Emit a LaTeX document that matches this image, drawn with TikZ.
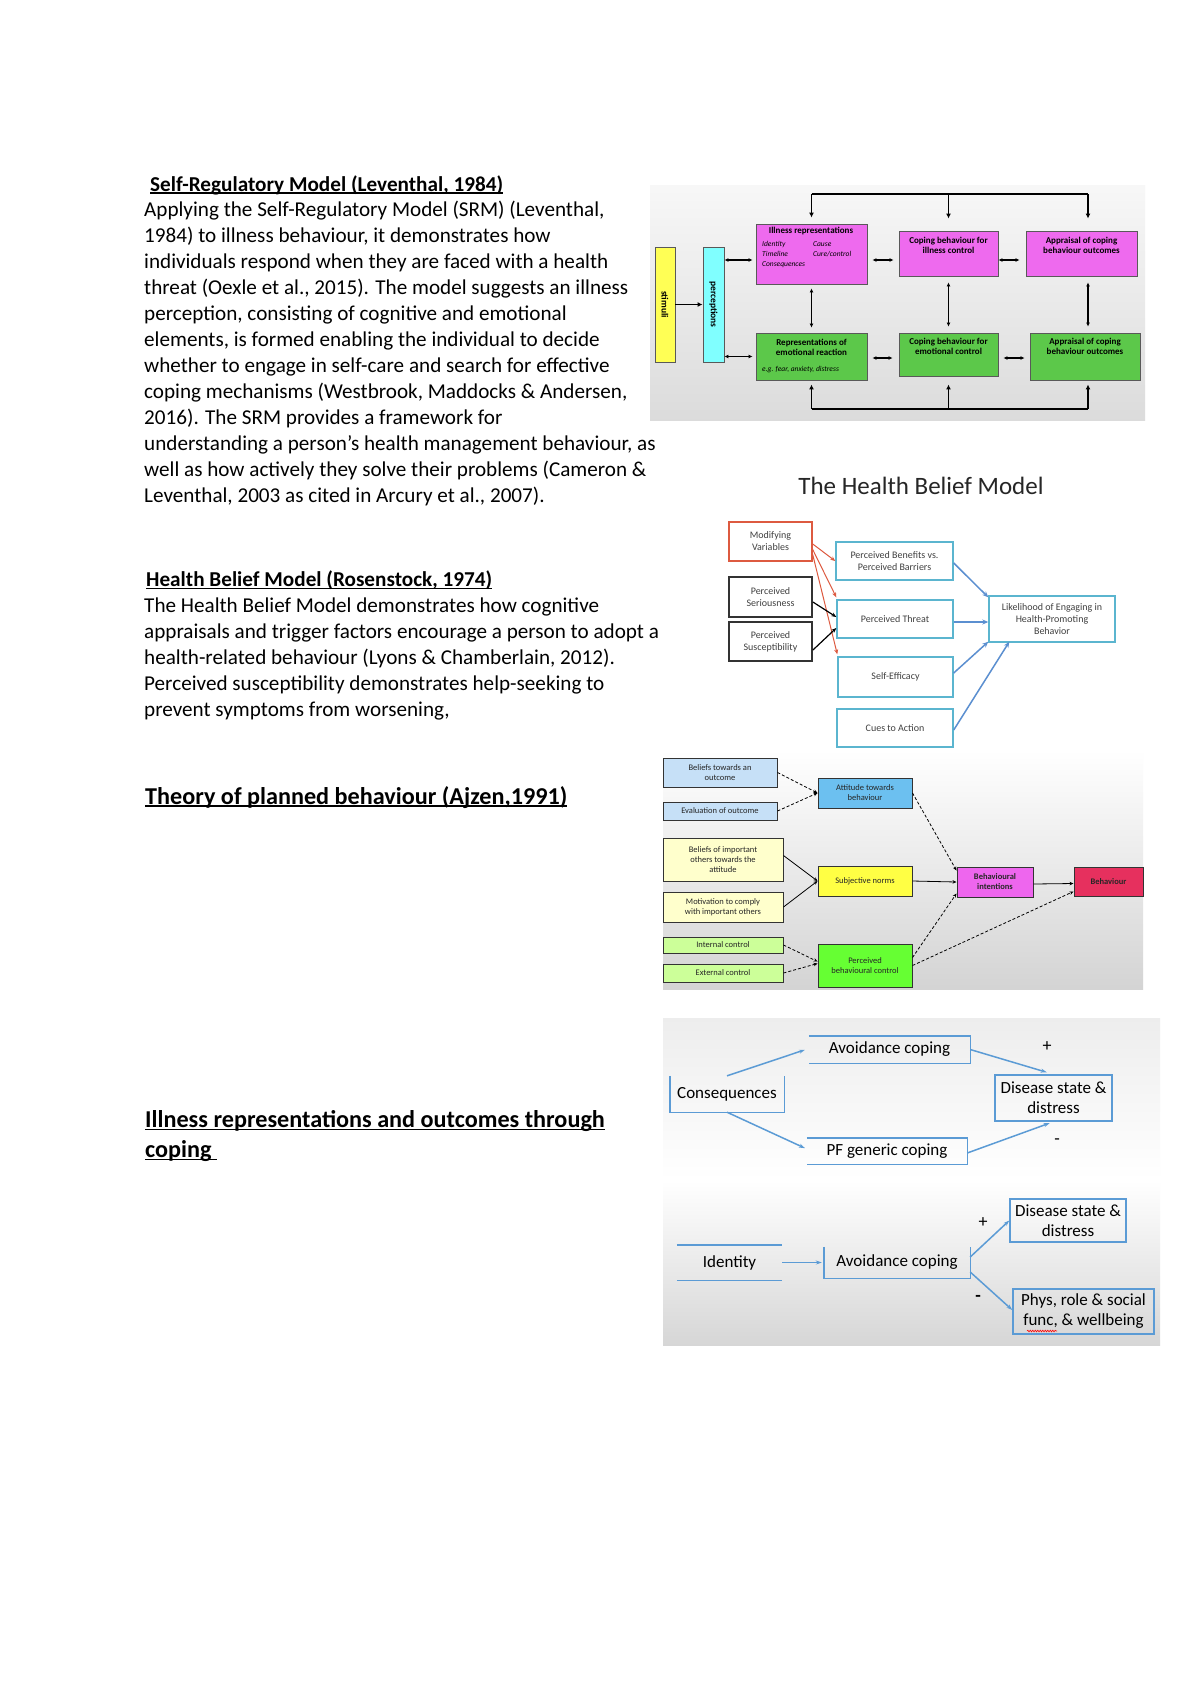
\documentclass[tikz,border=0pt]{standalone}
\usepackage{fontspec}
\setmainfont{Carlito}
\usetikzlibrary{arrows.meta,calc,decorations.pathmorphing}
\definecolor{srmmag}{HTML}{EE6AEE}
\definecolor{srmgreen}{HTML}{5CC84A}
\definecolor{srmyel}{HTML}{FFFF55}
\definecolor{srmcyan}{HTML}{80FFFF}
\definecolor{hbmred}{HTML}{DD5A40}
\definecolor{hbmblue}{HTML}{5BB5CF}
\definecolor{hbmarrow}{HTML}{5B8FD0}
\definecolor{irblue}{HTML}{5B9BD5}
\definecolor{tpbbl}{HTML}{C6E0F7}
\definecolor{tpbblue}{HTML}{6CC0F0}
\definecolor{tpbly}{HTML}{FFFFCC}
\definecolor{tpbyel}{HTML}{FFFF44}
\definecolor{tpblg}{HTML}{CCFF99}
\definecolor{tpbgreen}{HTML}{66FF33}
\definecolor{tpbmag}{HTML}{EE66EE}
\definecolor{tpbred}{HTML}{E6305E}
\newcommand\myul[1]{\setbox0=\hbox{#1}\rlap{\rule[-2.6pt]{\wd0}{1.4pt}}\box0}
\begin{document}
\begin{tikzpicture}[x=1pt,y=-1pt,
  body/.style={anchor=base west, inner sep=0pt, font=\fontsize{21.15}{26}\selectfont},
  headb/.style={anchor=base west, inner sep=0pt, font=\bfseries\fontsize{21.2}{26}\selectfont},
  headbig/.style={anchor=base west, inner sep=0pt, font=\bfseries\fontsize{24.2}{29}\selectfont},
  srmbox/.style={draw=black!65, line width=0.9pt, inner sep=0pt},
  srmtxt/.style={font=\bfseries\fontsize{9}{10.5}\selectfont, align=center, inner sep=0pt},
  srmit/.style={font=\itshape\fontsize{7.5}{9}\selectfont, anchor=west, inner sep=0pt},
  srmline/.style={line width=1.6pt},
  srmarr/.style={line width=1.6pt, -{Latex[length=5pt,width=5pt]}},
  srmdbl/.style={line width=1.3pt, {Latex[length=4pt,width=4pt]}-{Latex[length=4pt,width=4pt]}},
  hbmbox/.style={fill=white, inner sep=0pt, align=center, text=black!75, font=\fontsize{10}{12}\selectfont},
  hbmred/.style={hbmbox, draw=hbmred, line width=1.4pt},
  hbmblk/.style={hbmbox, draw=black!80, line width=1.8pt},
  hbmcy/.style={hbmbox, draw=hbmblue, line width=1.4pt},
  redarr/.style={draw=hbmred, line width=1pt, -{Stealth[length=5pt,width=4pt]}},
  blkarr/.style={draw=black, line width=1.2pt, -{Stealth[length=5pt,width=4pt]}},
  bluarr/.style={draw=hbmarrow, line width=1.5pt, -{Stealth[length=6pt,width=5pt]}},
  tpbbox/.style={draw=black!80, line width=1pt, inner sep=0pt, align=center, text=black!85, font=\fontsize{8.5}{10}\selectfont},
  tpbdash/.style={line width=0.8pt, densely dashed, -{Stealth[length=4pt,width=3.5pt]}},
  tpbsolid/.style={line width=0.8pt, -{Stealth[length=4pt,width=3.5pt]}},
  irbox/.style={inner sep=0pt, align=center, font=\fontsize{17}{20}\selectfont},
  irbord/.style={draw=irblue, line width=1.4pt},
  irarr/.style={draw=irblue, line width=1.5pt, -{Stealth[length=6pt,width=4pt]}},
  sign/.style={font=\fontsize{18}{20}\selectfont, inner sep=0pt}
]
\useasboundingbox (0,0) rectangle (1200,1698);
\fill[white] (0,0) rectangle (1200,1698);

% ---------------- left column text ----------------
\node[headb] (h1) at (150,191) {\myul{Self-Regulatory Model (Leventhal, 1984)}};
\node[body] (t1) at (144,216.5) {Applying the Self-Regulatory Model (SRM) (Leventhal,};
\node[body] (t2) at (144,242.5) {1984) to illness behaviour, it demonstrates how};
\node[body] (t3) at (144,268.5) {individuals respond when they are faced with a health};
\node[body] (t4) at (144,294.5) {threat (Oexle et al., 2015). The model suggests an illness};
\node[body] (t5) at (144,320.5) {perception, consisting of cognitive and emotional};
\node[body] (t6) at (144,346.5) {elements, is formed enabling the individual to decide};
\node[body] (t7) at (144,372.5) {whether to engage in self-care and search for effective};
\node[body] (t8) at (144,398.5) {coping mechanisms (Westbrook, Maddocks \& Andersen,};
\node[body] (t9) at (144,424.5) {2016). The SRM provides a framework for};
\node[body] (t10) at (144,450.5) {understanding a person’s health management behaviour, as};
\node[body] (t11) at (144,476.5) {well as how actively they solve their problems (Cameron \&};
\node[body] (t12) at (144,502.5) {Leventhal, 2003 as cited in Arcury et al., 2007).};

\node[headb] (h2) at (146,586.5) {\myul{Health Belief Model (Rosenstock, 1974)}};
\node[body] (u1) at (144,612.5) {The Health Belief Model demonstrates how cognitive};
\node[body] (u2) at (144,638.5) {appraisals and trigger factors encourage a person to adopt a};
\node[body] (u3) at (144,664.5) {health-related behaviour (Lyons \& Chamberlain, 2012).};
\node[body] (u4) at (144,690.5) {Perceived susceptibility demonstrates help-seeking to};
\node[body] (u5) at (144,716.5) {prevent symptoms from worsening,};

\node[headbig] (h3) at (145,804) {\myul{Theory of planned behaviour (Ajzen,1991)}};
\node[headbig] (h4) at (145,1127.5) {\myul{Illness representations and outcomes through}};
\node[headbig] (h5) at (145,1157.5) {\myul{coping\ }};

% ---------------- Self-Regulatory Model diagram ----------------
\shade[top color=white!97!black, bottom color=white!86!black] (650,185) rectangle (1145,420);
\node[srmbox, fill=srmyel, minimum width=20pt, minimum height=115pt] (stim) at (665,304.5) {};
\node[font=\bfseries\fontsize{9.5}{10}\selectfont, rotate=-90, inner sep=0pt] (stimt) at (stim) {stimuli};
\node[srmbox, fill=srmcyan, minimum width=21pt, minimum height=115pt] (perc) at (713.5,304.5) {};
\node[font=\bfseries\fontsize{9.5}{10}\selectfont, rotate=-90, inner sep=0pt] (perct) at (perc) {perceptions};

\node[srmbox, fill=srmmag, minimum width=111pt, minimum height=60pt] (illrep) at (811.5,254) {};
\node[srmtxt] (illrept) at (811,231.5) {Illness representations};
\node[srmit] (ir1) at (762,244) {Identity};
\node[srmit] (ir2) at (813,244) {Cause};
\node[srmit] (ir3) at (762,254) {Timeline};
\node[srmit] (ir4) at (813,254) {Cure/control};
\node[srmit] (ir5) at (762,265) {Consequences};

\node[srmbox, fill=srmgreen, minimum width=111pt, minimum height=47pt] (emorep) at (811.5,356.5) {};
\node[srmtxt] (emorept) at (811.5,347.5) {Representations of\\emotional reaction};
\node[srmit] (em1) at (762,370) {e.g. fear, anxiety, distress};

\node[srmbox, fill=srmmag, minimum width=99pt, minimum height=45pt] (copill) at (948.5,253.5) {};
\node[srmtxt] (copillt) at (948.5,245.5) {Coping behaviour for\\illness control};
\node[srmbox, fill=srmmag, minimum width=111pt, minimum height=45pt] (appill) at (1081.5,253.5) {};
\node[srmtxt] (appillt) at (1081.5,245.5) {Appraisal of coping\\behaviour outcomes};
\node[srmbox, fill=srmgreen, minimum width=99pt, minimum height=43pt] (copemo) at (948.5,354.5) {};
\node[srmtxt] (copemot) at (948.5,346.5) {Coping behaviour for\\emotional control};
\node[srmbox, fill=srmgreen, minimum width=110pt, minimum height=47pt] (appemo) at (1085,356.5) {};
\node[srmtxt] (appemot) at (1085,346.5) {Appraisal of coping\\behaviour outcomes};

\coordinate (srmtop) at (0,194);
\coordinate (srmbot) at (0,409);
\coordinate (srmmid) at (0,260);
\coordinate (srmlow) at (0,358);
\coordinate (appx) at (1088,0);
\draw[srmarr] (stim) -- (perc);
\draw[srmdbl, shorten >=3pt] (perc.east |- srmmid) -- (illrep.west |- srmmid);
\draw[srmdbl, shorten >=3pt] (perc.east |- emorep.west) -- (emorep.west);
\draw[srmdbl, shorten <=5pt, shorten >=5pt] (illrep.east |- srmmid) -- (copill.west |- srmmid);
\draw[srmdbl, shorten >=6pt] (copill.east |- srmmid) -- (appill.west |- srmmid);
\draw[srmdbl, shorten <=5pt, shorten >=6pt] (emorep.east |- srmlow) -- (copemo.west |- srmlow);
\draw[srmdbl, shorten <=5pt, shorten >=5pt] (copemo.east |- srmlow) -- (appemo.west |- srmlow);
\draw[srmdbl, shorten <=4pt, shorten >=5pt] (illrep.south) -- (emorep.north);
\draw[srmdbl, shorten <=6pt, shorten >=6pt] (copill.south) -- (copemo.north);
\draw[srmdbl, shorten <=6pt, shorten >=6pt] (appx |- appill.south) -- (appx |- appemo.north);
\draw[srmline] (illrep.north |- srmtop) -- (appx |- srmtop);
\draw[srmarr, shorten >=6pt] (illrep.north |- srmtop) -- (illrep.north);
\draw[srmarr, shorten >=12pt] (copill.north |- srmtop) -- (copill.north);
\draw[srmarr, shorten >=12pt] (appx |- srmtop) -- (appx |- appill.north);
\draw[srmline] (emorep.south |- srmbot) -- (appx |- srmbot);
\draw[srmarr, shorten >=4pt] (emorep.south |- srmbot) -- (emorep.south);
\draw[srmarr, shorten >=8pt] (copemo.south |- srmbot) -- (copemo.south);
\draw[srmarr, shorten >=4pt] (appx |- srmbot) -- (appx |- appemo.south);

% ---------------- Health Belief Model ----------------
\node[font=\fontsize{25}{28}\selectfont, text=black!85, inner sep=0pt] (hbmtitle) at (921,486) {The Health Belief Model};
\node[hbmred, minimum width=83pt, minimum height=39pt] (modvar) at (770.5,541.5) {Modifying\\Variables};
\node[hbmblk, minimum width=83pt, minimum height=40pt] (perser) at (770.5,597) {Perceived\\Seriousness};
\node[hbmblk, minimum width=83pt, minimum height=39pt] (persus) at (770.5,641.5) {Perceived\\Susceptibility};
\node[hbmcy, minimum width=117pt, minimum height=38pt] (benef) at (894.5,561) {Perceived Benefits vs.\\Perceived Barriers};
\node[hbmcy, minimum width=116pt, minimum height=38pt] (threat) at (895,619) {Perceived Threat};
\node[hbmcy, minimum width=115pt, minimum height=40pt] (selfeff) at (895.5,677) {Self-Efficacy};
\node[hbmcy, minimum width=116pt, minimum height=38pt] (cues) at (895,728) {Cues to Action};
\node[hbmcy, minimum width=126pt, minimum height=46pt] (likely) at (1052,619) {Likelihood of Engaging in\\Health-Promoting\\Behavior};

\draw[redarr] ($(modvar.east)+(0,2.5)$) -- (benef.west);
\draw[redarr] ($(modvar.east)+(0,8)$) -- ($(threat.north west)+(0,-2)$);
\draw[redarr] ($(modvar.east)+(0,13)$) -- ($(selfeff.north west)+(0,-2)$);
\draw[blkarr] ($(perser.east)+(0,5)$) -- ($(threat.west)+(0,-2)$);
\draw[blkarr] ($(persus.east)+(0,8.5)$) -- ($(threat.west)+(0,9)$);
\draw[bluarr] ($(benef.east)+(0,2)$) -- ($(likely.north west)+(0,2)$);
\draw[bluarr] ($(threat.east)+(0,3)$) -- ($(likely.west)+(0,3)$);
\draw[bluarr] ($(selfeff.east)+(0,-4)$) -- ($(likely.south west)+(0,-1)$);
\draw[bluarr] ($(cues.east)+(0,2)$) -- ($(likely.south west)+(21,-1)$);

% ---------------- Theory of planned behaviour ----------------
\shade[top color=white, bottom color=white!83!black] (663,750) rectangle (1143,989);
\node[tpbbox, fill=tpbbl, minimum width=114pt, minimum height=29pt] (bto) at (720,772.5) {Beliefs towards an\\outcome};
\node[tpbbox, fill=tpbbl, minimum width=114pt, minimum height=18pt] (evo) at (720,811) {Evaluation of outcome};
\node[tpbbox, fill=tpbblue, minimum width=94pt, minimum height=30pt] (att) at (865,793) {Attitude towards\\behaviour};
\node[tpbbox, fill=tpbly, minimum width=120pt, minimum height=43pt] (bio) at (723,859.5) {Beliefs of important\\others towards the\\attitude};
\node[tpbbox, fill=tpbly, minimum width=120pt, minimum height=30pt] (mot) at (723,907) {Motivation to comply\\with important others};
\node[tpbbox, fill=tpbyel, minimum width=94pt, minimum height=30pt] (subj) at (865,881) {Subjective norms};
\node[tpbbox, fill=tpblg, minimum width=120pt, minimum height=16pt] (intc) at (723,945) {Internal control};
\node[tpbbox, fill=tpblg, minimum width=120pt, minimum height=18pt] (extc) at (723,973) {External control};
\node[tpbbox, fill=tpbgreen, minimum width=94pt, minimum height=43pt] (pbc) at (865,965.5) {Perceived\\behavioural control};
\node[tpbbox, fill=tpbmag, minimum width=76pt, minimum height=30pt, font=\bfseries\fontsize{8.5}{10}\selectfont] (bint) at (995,882) {Behavioural\\intentions};
\node[tpbbox, fill=tpbred, minimum width=69pt, minimum height=29pt, font=\bfseries\fontsize{8.5}{10}\selectfont] (beh) at (1108.5,881.5) {Behaviour};

\draw[tpbdash] (bto.east) -- (att.west);
\draw[tpbdash] (evo.east) -- (att.west);
\draw[tpbsolid] ($(bio.east)+(0,-4)$) -- (subj.west);
\draw[tpbsolid] (mot.east) -- (subj.west);
\draw[tpbdash] (intc.east) -- ($(pbc.west)+(0,-4)$);
\draw[tpbdash] (extc.east) -- ($(pbc.west)+(0,-2)$);
\draw[tpbdash] (att.east) -- ($(bint.north west)+(0,4)$);
\draw[tpbsolid] (subj.east) -- (bint.west);
\draw[tpbdash] ($(pbc.east)+(0,-8)$) -- ($(bint.south west)+(0,-4)$);
\draw[tpbdash] (pbc.east) -- ($(beh.south west)+(0,-5)$);
\draw[tpbsolid] ($(bint.east)+(0,2)$) -- ($(beh.west)+(0,2)$);

% ---------------- Illness representations and coping ----------------
\shade[top color=white!93!black, bottom color=white] (663,1018) rectangle (1160,1180);
\shade[top color=white, bottom color=white!84!black] (663,1180) rectangle (1160,1345);
\node[irbox, minimum width=114pt, minimum height=36pt] (cons) at (727,1094) {Consequences};
\node[irbox, minimum width=161pt, minimum height=27pt] (avo1) at (889.5,1049.5) {Avoidance coping};
\node[irbox, minimum width=160pt, minimum height=26pt] (pfg) at (887,1151) {PF generic coping};
\node[irbox, minimum width=117pt, minimum height=46pt, draw=irblue, line width=1.4pt] (dis1) at (1053.5,1098) {Disease state \&\\distress};
\node[irbox, minimum width=105pt, minimum height=35pt] (ident) at (729.5,1262.5) {Identity};
\node[irbox, minimum width=146pt, minimum height=31pt] (avo2) at (897,1262.5) {Avoidance coping};
\node[irbox, minimum width=116pt, minimum height=43pt, draw=irblue, line width=1.4pt] (dis2) at (1068,1220.5) {Disease state \&\\distress};
\node[irbox, minimum width=141pt, minimum height=45pt, draw=irblue, line width=1.4pt] (phys) at (1083.5,1311.5) {Phys, role \& social\\func, \& wellbeing};

\draw[irbord] (cons.north west) -- (cons.south west) -- (cons.south east) -- (cons.north east);
\draw[irbord] (avo1.north west) -- (avo1.north east) -- (avo1.south east) -- (avo1.south west);
\draw[irbord] (pfg.north west) -- (pfg.north east) -- (pfg.south east) -- (pfg.south west);
\draw[irbord] (ident.north west) -- (ident.north east);
\draw[irbord] (ident.south west) -- (ident.south east);
\draw[irbord] (avo2.north west) -- (avo2.south west) -- (avo2.south east) -- (avo2.north east);
\draw[red, line width=0.6pt, decorate, decoration={snake, amplitude=0.8pt, segment length=2.5pt}] (1027,1331) -- (1057,1331);

\draw[irarr, shorten >=4pt] (cons.north) -- ($(avo1.west)+(0,-1)$);
\draw[irarr, shorten >=2pt] (cons.south) -- ($(pfg.west)+(0,-2)$);
\draw[irarr, shorten >=7pt] (avo1.east) -- (dis1.north);
\draw[irarr, shorten >=4pt] ($(pfg.east)+(0,2)$) -- (dis1.south);
\draw[irarr, shorten >=2pt] (ident.east) -- (avo2.west);
\draw[irarr] ($(avo2.east)+(0,-5.5)$) -- (dis2.west);
\draw[irarr] ($(avo2.east)+(0,9.5)$) -- ($(phys.west)+(0,-1.5)$);

\node[sign] (p1) at (1047,1047) {+};
\node[sign] (m1) at (1057,1142) {-};
\node[sign] (p2) at (983,1223) {+};
\node[sign, font=\bfseries\fontsize{18}{20}\selectfont] (m2) at (978,1298) {-};
\end{tikzpicture}
\end{document}
